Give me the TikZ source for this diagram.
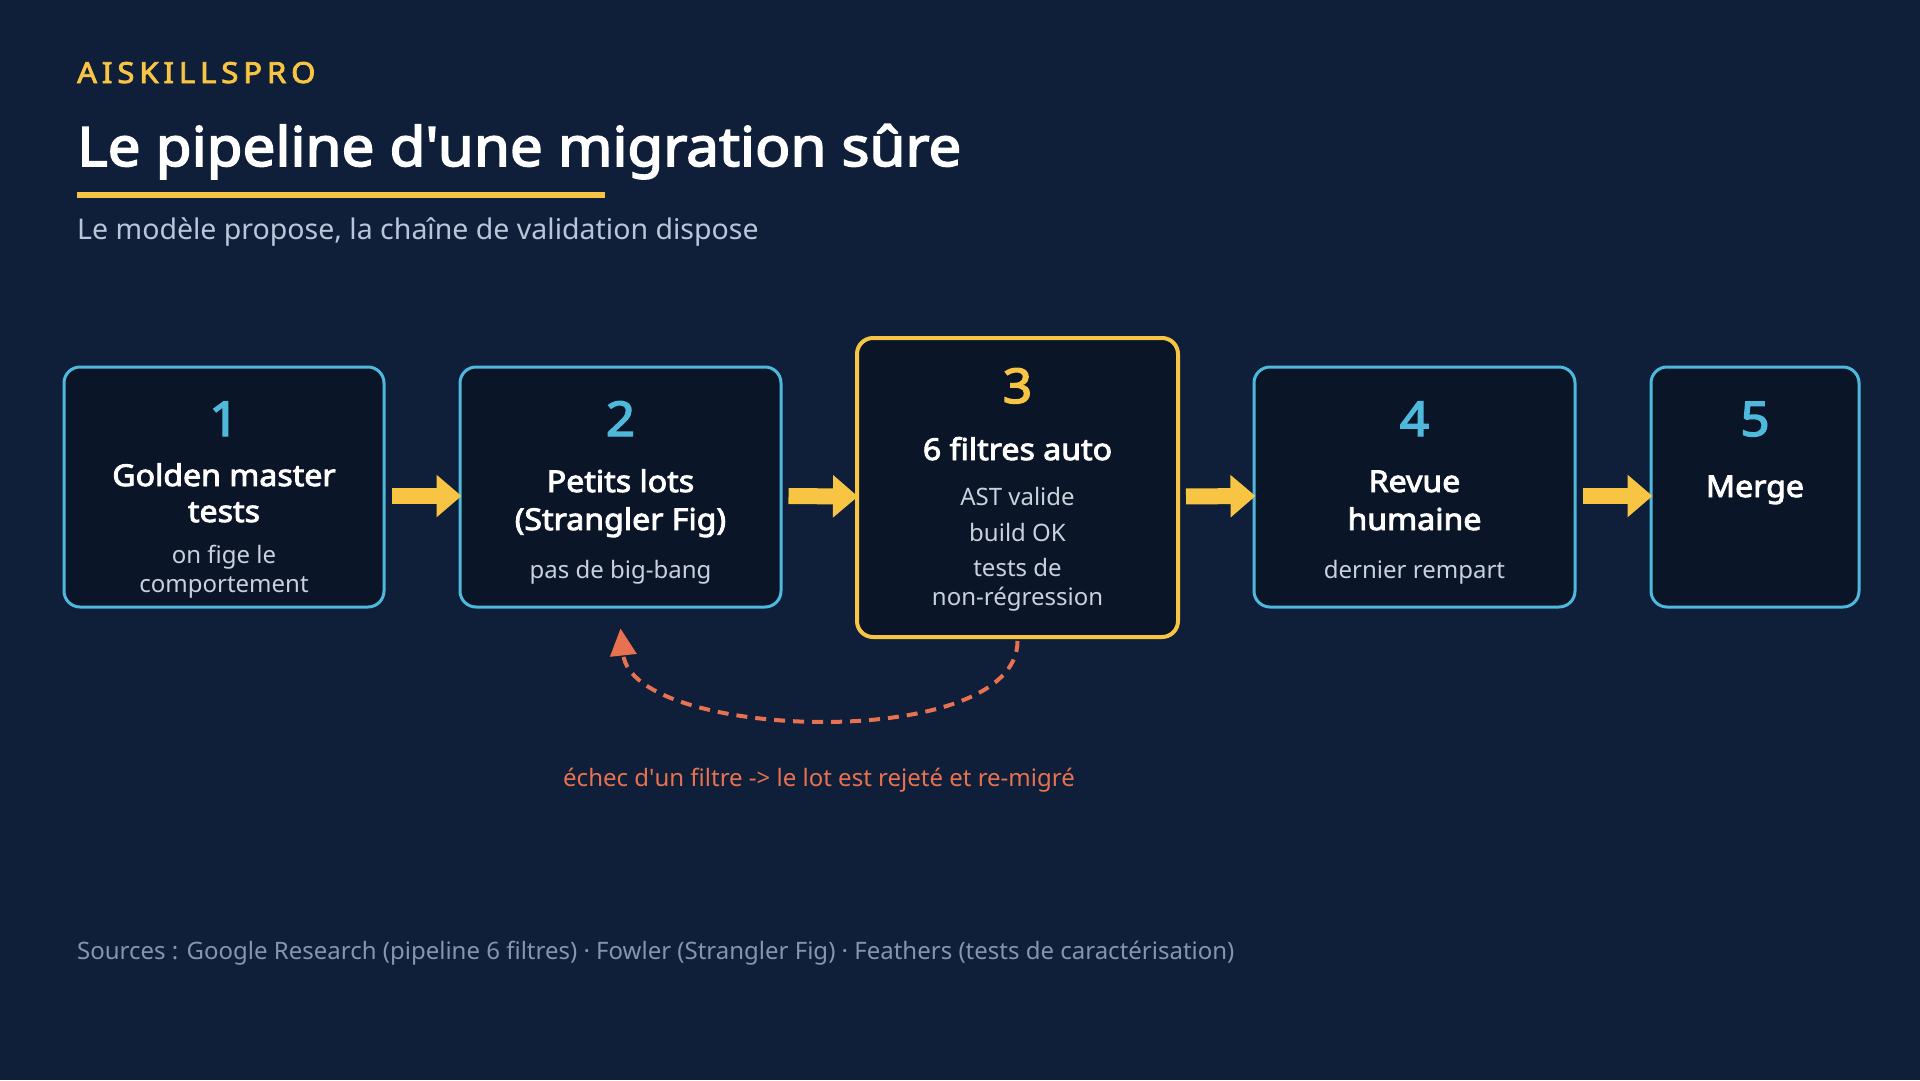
\documentclass[tikz,border=0pt]{standalone}
\usepackage{fontspec}
\setmainfont{Noto Sans}[BoldFont={Noto Sans}, BoldFeatures={FakeBold=3, FakeStretch=1.07}]
\usetikzlibrary{arrows.meta}
\definecolor{bg}{HTML}{0F1F3A}
\definecolor{boxfill}{HTML}{0B1528}
\definecolor{cyanc}{HTML}{4EB8DD}
\definecolor{yel}{HTML}{F7C543}
\definecolor{coral}{HTML}{E8714F}
\definecolor{subt}{HTML}{B9C6D9}
\definecolor{boxtxt}{HTML}{C9D1DD}
\definecolor{srcc}{HTML}{8595B0}
\newcommand{\fs}[1]{\fontsize{#1}{#1}\selectfont}
\begin{document}
\begin{tikzpicture}[x=1pt,y=-1pt,
  stepbox/.style={draw=cyanc, line width=3pt, fill=boxfill, rounded corners=16pt, inner sep=0pt},
  keybox/.style={stepbox, draw=yel, line width=4pt},
  num/.style={anchor=base, text=cyanc, font=\fs{48}\bfseries, inner sep=0pt},
  head/.style={anchor=base, text=white, font=\fs{30}\bfseries, inner sep=0pt},
  sub/.style={anchor=base, text=boxtxt, font=\fs{24}, inner sep=0pt},
  flow/.style={draw=yel, line width=16pt, -{Triangle[length=25pt,width=41pt]}, shorten <=6pt, shorten >=-3pt},
  back/.style={draw=coral, line width=4pt, dash pattern=on 11pt off 8pt, -{Triangle[length=27pt,width=26pt]}}
]
\fill[bg] (0,0) rectangle (1920,1080);
\useasboundingbox (0,0) rectangle (1920,1080);

% header
\node[anchor=base west, inner sep=0pt, text=yel, font=\fs{29}\bfseries\addfontfeature{LetterSpace=17}] (brand) at (77,83) {AISKILLSPRO};
\node[anchor=base west, inner sep=0pt, text=white, font=\fs{54.5}\bfseries] (title) at (77,166) {Le pipeline d\textquotesingle une migration sûre};
\fill[yel] (77,192) rectangle (605,198);
\node[anchor=base west, inner sep=0pt, text=subt, font=\fs{28.5}] (subtitle) at (77,239) {Le modèle propose, la chaîne de validation dispose};

% boxes
\node[stepbox, minimum width=320pt, minimum height=240pt] (b1) at (224,487) {};
\node[stepbox, minimum width=321pt, minimum height=240pt] (b2) at (620.5,487) {};
\node[keybox, minimum width=321pt, minimum height=299pt] (b3) at (1017.5,487.5) {};
\node[stepbox, minimum width=321pt, minimum height=240pt] (b4) at (1414.5,487) {};
\node[stepbox, minimum width=208pt, minimum height=240pt] (b5) at (1755,487) {};

% box 1
\node[num] (n1) at (224,436) {1};
\node[head] (h1a) at (224,486) {Golden master};
\node[head] (h1b) at (224,522) {tests};
\node[sub] (s1a) at (224,563) {on fige le};
\node[sub] (s1b) at (224,592) {comportement};
% box 2
\node[num] (n2) at (620.5,436) {2};
\node[head] (h2a) at (620.5,492) {Petits lots};
\node[head] (h2b) at (620.5,530) {(Strangler Fig)};
\node[sub] (s2a) at (620.5,578) {pas de big-bang};
% box 3
\node[num, text=yel] (n3) at (1017.5,403) {3};
\node[head] (h3a) at (1017.5,460) {6 filtres auto};
\node[sub] (s3a) at (1017.5,505) {AST valide};
\node[sub] (s3b) at (1017.5,541) {build OK};
\node[sub] (s3c) at (1017.5,576) {tests de};
\node[sub] (s3d) at (1017.5,605) {non-régression};
% box 4
\node[num] (n4) at (1414.5,436) {4};
\node[head] (h4a) at (1414.5,492) {Revue};
\node[head] (h4b) at (1414.5,530) {humaine};
\node[sub] (s4a) at (1414.5,578) {dernier rempart};
% box 5
\node[num] (n5) at (1755,436) {5};
\node[head] (h5a) at (1755,497) {Merge};

% flow arrows
\draw[flow] ([yshift=-9pt]b1.east) -- ([yshift=-9pt]b2.west);
\draw[flow] ([yshift=-9pt]b2.east) -- ([yshift=-9pt]b3.west);
\draw[flow] ([yshift=-9pt]b3.east) -- ([yshift=-9pt]b4.west);
\draw[flow] ([yshift=-9pt]b4.east) -- ([yshift=-9pt]b5.west);

% feedback loop
\coordinate (ret) at ([yshift=-20pt]b2.south);
\draw[back] ([yshift=-2pt]b3.south) .. controls +(0,112) and +(12,112) .. (ret);
\node[anchor=base, inner sep=0pt, text=coral, font=\fs{24}] (fail) at (819,786) {échec d\textquotesingle un filtre -> le lot est rejeté et re-migré};

% sources
\node[anchor=base west, inner sep=0pt, text=srcc, font=\fs{24}] (src) at (77,959) {Sources : Google Research (pipeline 6 filtres) · Fowler (Strangler Fig) · Feathers (tests de caractérisation)};
\end{tikzpicture}
\end{document}
